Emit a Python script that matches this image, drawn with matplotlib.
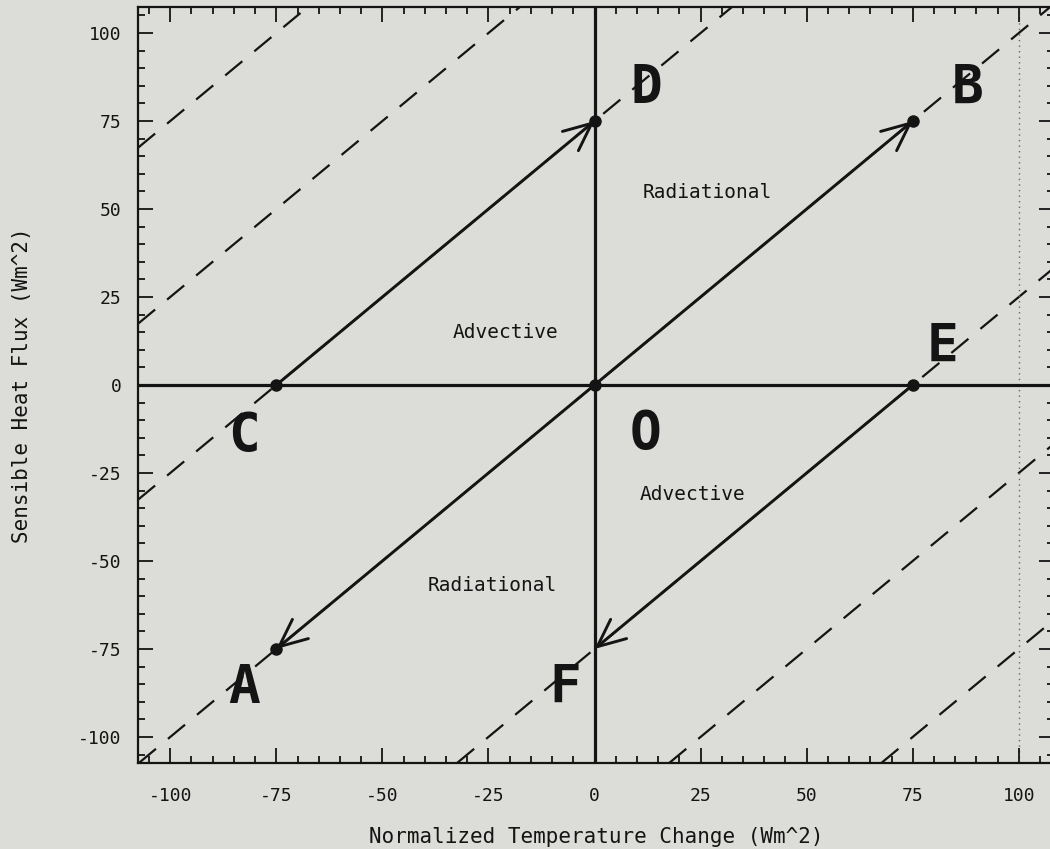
import matplotlib
matplotlib.use('Agg')
from matplotlib import pyplot as plt
import numpy as np

plt.rcParams['font.family'] = ['DejaVu Sans Mono']
plt.rcParams['axes.unicode_minus'] = False

BG = '#dcddd9'
INK = '#141414'

# points of the diagram
point_names = ['A', 'B', 'C', 'D', 'E', 'F', 'O']
point_x = [-75, 75, -75, 0, 75, 0, 0]
point_y = [-75, 75, 0, 75, 0, -75, 0]

# arrows (start -> end)
arrow_from = ['C', 'O', 'O', 'E']
arrow_to = ['D', 'B', 'A', 'F']

# points marked with a dot
dot_points = ['A', 'B', 'C', 'D', 'E', 'O']

# big letter labels
letter_x = [-82.7, 88, -82.7, 12.3, 82, -7, 12]
letter_y = [-86, 84.5, -14.5, 84.5, 11, -86, -14]

# dashed lines y = x + c
dash_offsets = [175, 125, 75, 0, -75, -125, -175]

# region labels
region_text = ['Radiational', 'Advective', 'Advective', 'Radiational']
region_x = [26.5, -21, 23, -24]
region_y = [54.8, 14.8, -31, -57]

ticks = [-100, -75, -50, -25, 0, 25, 50, 75, 100]

fig = plt.figure(figsize=(10.5, 8.49), dpi=100)
fig.patch.set_facecolor(BG)
ax = fig.add_axes([138 / 1050, 1 - 763 / 849, 916 / 1050, 756 / 849])
ax.set_facecolor(BG)

ax.set_xlim(-107.6, 108.3)
ax.set_ylim(-107.4, 107.4)

# dashed diagonal lines
for c in dash_offsets:
    ax.axline((0, c), slope=1, color=INK, lw=1.6, ls=(0, (10, 7)), zorder=1)

# faint dotted line
ax.axvline(100, color='#666666', lw=1.0, ls=(0, (1, 3)), zorder=1)

# axes through the origin
ax.axhline(0, color=INK, lw=2.3, zorder=2)
ax.axvline(0, color=INK, lw=2.3, zorder=2)

pts = {n: (x, y) for n, x, y in zip(point_names, point_x, point_y)}

for a, b in zip(arrow_from, arrow_to):
    ax.annotate('', xy=pts[b], xytext=pts[a],
                arrowprops=dict(arrowstyle='->,head_length=1.0,head_width=0.45',
                                mutation_scale=20, color=INK, lw=2.1,
                                shrinkA=0, shrinkB=0),
                zorder=3)

ax.plot([pts[n][0] for n in dot_points], [pts[n][1] for n in dot_points],
        'o', color=INK, ms=8, zorder=4)

for n, x, y in zip(point_names, letter_x, letter_y):
    ax.text(x, y, n, fontsize=38, fontweight='bold', ha='center', va='center',
            color=INK, zorder=5)

for t, x, y in zip(region_text, region_x, region_y):
    ax.text(x, y, t, fontsize=14, ha='center', va='center', color=INK, zorder=5)

ax.set_xticks(ticks)
ax.set_yticks(ticks)
ax.set_xticks(np.arange(-105, 106, 5), minor=True)
ax.set_yticks(np.arange(-105, 106, 5), minor=True)
ax.tick_params(which='both', direction='in', top=True, right=True, color=INK,
               width=1.3, labelsize=13, labelcolor=INK)
ax.tick_params(which='major', length=11)
ax.tick_params(which='minor', length=5)
ax.tick_params(axis='x', which='major', pad=17)
ax.tick_params(axis='y', which='major', pad=12)

for s in ax.spines.values():
    s.set_color(INK)
    s.set_linewidth(1.6)

ax.set_xlabel('Normalized Temperature Change (Wm^2)', fontsize=15, color=INK,
              labelpad=16)
ax.set_ylabel('Sensible Heat Flux (Wm^2)', fontsize=15, color=INK, labelpad=33)

fig.savefig('out.png', dpi=100, facecolor=BG)
